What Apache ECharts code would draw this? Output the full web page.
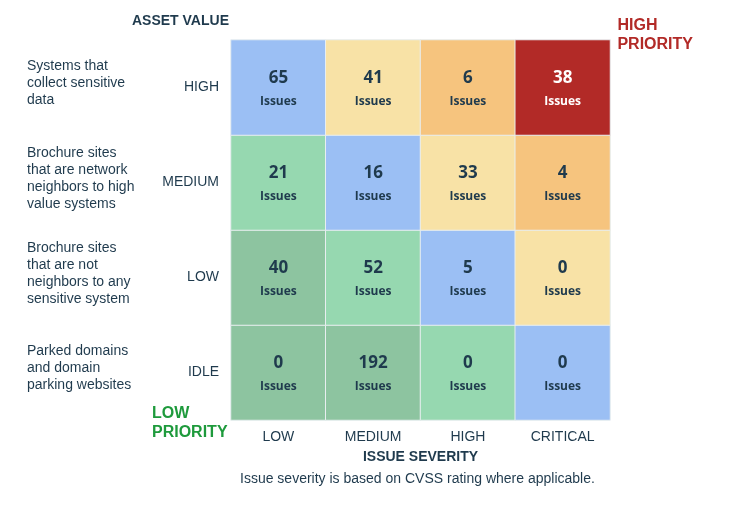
<!DOCTYPE html>
<html>
<head>
<meta charset="utf-8">
<script src="https://cdn.jsdelivr.net/npm/echarts@6/dist/echarts.min.js"></script>
<style>html,body{margin:0;background:#fff}#main{width:756px;height:514px}</style>
</head>
<body>
<div id="main"></div>
<script>
var severities = ['LOW', 'MEDIUM', 'HIGH', 'CRITICAL'];
var assetValues = ['IDLE', 'LOW', 'MEDIUM', 'HIGH'];
var assetDescriptions = [
  'Parked domains\nand domain\nparking websites',
  'Brochure sites\nthat are not\nneighbors to any\nsensitive system',
  'Brochure sites\nthat are network\nneighbors to high\nvalue systems',
  'Systems that\ncollect sensitive\ndata'
];
// rows from IDLE up to HIGH, columns LOW..CRITICAL
var issueCounts = [
  [0, 192, 0, 0],
  [40, 52, 5, 0],
  [21, 16, 33, 4],
  [65, 41, 6, 38]
];
// colour zone per cell: 0 dark green,1 green,2 blue,3 yellow,4 orange,5 red
var zones = [
  [0, 0, 1, 2],
  [0, 1, 2, 3],
  [1, 2, 3, 4],
  [2, 3, 4, 5]
];
var zoneColors = ['#8dc4a0', '#96d8b0', '#9bbff4', '#f8e2a6', '#f6c47e', '#b22a27'];

var data = [];
issueCounts.forEach(function (row, y) {
  row.forEach(function (v, x) {
    var z = zones[y][x];
    data.push({
      value: [x, y, v],
      itemStyle: { color: zoneColors[z] },
      label: { color: z === 5 ? '#ffffff' : '#1f3a4d' }
    });
  });
});

var gridTop = 40, rowH = 95;
var descTexts = assetDescriptions.map(function (t, i) {
  var lines = t.split('\n').length;
  var cy = gridTop + (3 - i) * rowH + rowH / 2 - 4;
  return {
    type: 'text', left: 27, top: cy - lines * 17 / 2,
    style: { text: t, font: '14px "Liberation Sans", Arial', fill: '#1f3a4d', lineHeight: 17 }
  };
});

var chart = echarts.init(document.getElementById('main'));
chart.setOption({
  animation: false,
  grid: { left: 231, right: 146, top: gridTop, bottom: 94 },
  xAxis: {
    type: 'category', data: severities,
    axisLine: { show: false }, axisTick: { show: false }, splitArea: { show: false },
    axisLabel: { color: '#1f3a4d', fontSize: 14, fontFamily: 'Liberation Sans', margin: 10 },
    name: 'ISSUE SEVERITY', nameLocation: 'middle', nameGap: 30,
    nameTextStyle: { color: '#1f3a4d', fontSize: 14, fontWeight: 'bold', fontFamily: 'Liberation Sans' }
  },
  yAxis: {
    type: 'category', data: assetValues,
    axisLine: { show: false }, axisTick: { show: false },
    axisLabel: { color: '#1f3a4d', fontSize: 14, fontFamily: 'Liberation Sans', margin: 12 }
  },
  graphic: descTexts.concat([
    { type: 'text', left: 132, top: 14, style: { text: 'ASSET VALUE', font: 'bold 14px "Liberation Sans"', fill: '#1f3a4d' } },
    { type: 'text', right: 63, top: 16, style: { text: 'HIGH\nPRIORITY', font: 'bold 16px "Liberation Sans"', fill: '#b22a27', align: 'center', lineHeight: 19, x: 0 } },
    { type: 'text', left: 152, top: 404, style: { text: 'LOW\nPRIORITY', font: 'bold 16px "Liberation Sans"', fill: '#1e9a3c', align: 'center', lineHeight: 19, x: 38 } },
    { type: 'text', left: 240, top: 472, style: { text: 'Issue severity is based on CVSS rating where applicable.', font: '14px "Liberation Sans"', fill: '#1f3a4d' } }
  ]),
  series: [{
    type: 'heatmap',
    data: data,
    itemStyle: { borderColor: '#e8eef0', borderWidth: 1 },
    label: {
      show: true,
      formatter: function (p) { return '{n|' + p.value[2] + '}\n{s|Issues}'; },
      rich: {
        n: { fontSize: 17, fontWeight: 'bold', fontFamily: 'Open Sans', lineHeight: 28 },
        s: { fontSize: 12, fontWeight: 'bold', fontFamily: 'Open Sans', lineHeight: 18 }
      }
    }
  }]
});
</script>
</body>
</html>
